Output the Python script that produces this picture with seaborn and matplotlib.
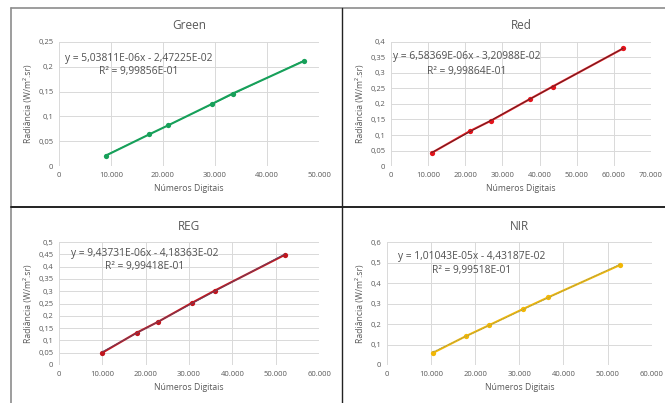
"""Curvas de calibração radiométrica por banda (Green, Red, REG, NIR)."""
import matplotlib
matplotlib.use("Agg")
import matplotlib.pyplot as plt
import matplotlib.lines as mlines
import pandas as pd
import seaborn as sns

# pontos: número digital x radiância
green_dn = [9000, 17400, 21000, 29400, 33400, 47200]
green_rad = [0.021, 0.064, 0.082, 0.125, 0.146, 0.212]

red_dn = [10900, 21300, 26900, 37400, 43500, 62500]
red_rad = [0.042, 0.113, 0.146, 0.216, 0.256, 0.379]

reg_dn = [10000, 17900, 22900, 30600, 36000, 52100]
reg_rad = [0.050, 0.131, 0.176, 0.252, 0.303, 0.448]

nir_dn = [10400, 17900, 23200, 30900, 36600, 52800]
nir_rad = [0.059, 0.141, 0.195, 0.274, 0.331, 0.488]

green_eq = ["y = 5,03811E-06x - 2,47225E-02", "R² = 9,99856E-01"]
red_eq = ["y = 6,58369E-06x - 3,20988E-02", "R² = 9,99864E-01"]
reg_eq = ["y = 9,43731E-06x - 4,18363E-02", "R² = 9,99418E-01"]
nir_eq = ["y = 1,01043E-05x - 4,43187E-02", "R² = 9,99518E-01"]

x_ticks_50 = [0, 10000, 20000, 30000, 40000, 50000]
x_ticks_60 = [0, 10000, 20000, 30000, 40000, 50000, 60000]
x_ticks_70 = [0, 10000, 20000, 30000, 40000, 50000, 60000, 70000]

green_yticks = [0, 0.05, 0.1, 0.15, 0.2, 0.25]
red_yticks = [0, 0.05, 0.1, 0.15, 0.2, 0.25, 0.3, 0.35, 0.4]
reg_yticks = [0, 0.05, 0.1, 0.15, 0.2, 0.25, 0.3, 0.35, 0.4, 0.45, 0.5]
nir_yticks = [0, 0.1, 0.2, 0.3, 0.4, 0.5, 0.6]


def fmt_x(v):
    return f"{v:,.0f}".replace(",", ".")


def fmt_y(v):
    return f"{v:g}".replace(".", ",")


sns.set_theme(style="white")
plt.rcParams["font.family"] = ["Open Sans", "DejaVu Sans"]

TXT = "#595959"
GRID = "#d9d9d9"

fig = plt.figure(figsize=(6.65, 4.03), dpi=100)

panels = [
    # title, x, y, eq, xticks, yticks, color, trend color, trend style, rect, eq pos
    ("Green", green_dn, green_rad, green_eq, x_ticks_50, green_yticks,
     "#17a05a", "#17a05a", "-", [0.0887, 0.588, 0.391, 0.308], (0.308, 0.863, 0.758)),
    ("Red", red_dn, red_rad, red_eq, x_ticks_70, red_yticks,
     "#e3141c", "#3a2a2a", "-", [0.588, 0.588, 0.391, 0.308], (0.292, 0.879, 0.758)),
    ("REG", reg_dn, reg_rad, reg_eq, x_ticks_60, reg_yticks,
     "#c0161e", "#5a4a6a", "-", [0.0887, 0.0943, 0.391, 0.305], (0.329, 0.911, 0.805)),
    ("NIR", nir_dn, nir_rad, nir_eq, x_ticks_60, nir_yticks,
     "#f2b705", "#4a7fb0", ":", [0.582, 0.0943, 0.398, 0.305], (0.321, 0.886, 0.772)),
]

for title, xs, ys, eq, xt, yt, col, tcol, tls, rect, epos in panels:
    ax = fig.add_axes(rect)
    df = pd.DataFrame({"dn": xs, "rad": ys})
    sns.lineplot(data=df, x="dn", y="rad", ax=ax, color=col, linewidth=1.5,
                 marker="o", markersize=3.8, markeredgewidth=0, zorder=3)
    sns.regplot(data=df, x="dn", y="rad", ax=ax, scatter=False, ci=None,
                truncate=True, line_kws={"color": tcol, "lw": 0.5, "ls": tls, "zorder": 4})
    ax.set_xlim(xt[0], xt[-1])
    ax.set_ylim(yt[0], yt[-1])
    ax.set_xticks(xt)
    ax.set_xticklabels([fmt_x(v) for v in xt])
    ax.set_yticks(yt)
    ax.set_yticklabels([fmt_y(v) for v in yt])
    ax.tick_params(axis="both", labelsize=5.5, colors=TXT, length=0, pad=4)
    ax.grid(True, color=GRID, linewidth=0.7)
    ax.set_axisbelow(True)
    for s in ax.spines.values():
        s.set_visible(False)
    ax.set_title(title, fontsize=8.5, color=TXT, pad=9)
    ax.set_xlabel("Números Digitais", fontsize=6.2, color=TXT, labelpad=4)
    ax.set_ylabel("Radiância (W/m².sr)", fontsize=6.2, color=TXT, labelpad=4)
    ax.text(epos[0], epos[1], eq[0], transform=ax.transAxes, ha="center",
            va="center", fontsize=7.4, color="#505050")
    ax.text(epos[0], epos[2], eq[1], transform=ax.transAxes, ha="center",
            va="center", fontsize=7.4, color="#505050")

# moldura e divisões entre os quatro gráficos
fig.add_artist(mlines.Line2D([11 / 665, 1], [1 - 8 / 403, 1 - 8 / 403],
                             color="#8c8c8c", lw=1.2, transform=fig.transFigure))
fig.add_artist(mlines.Line2D([11 / 665, 11 / 665], [0, 1 - 8 / 403],
                             color="#8c8c8c", lw=1.2, transform=fig.transFigure))
fig.add_artist(mlines.Line2D([342 / 665, 342 / 665], [0, 1 - 8 / 403],
                             color="#222222", lw=1.0, transform=fig.transFigure))
fig.add_artist(mlines.Line2D([11 / 665, 1], [1 - 207 / 403, 1 - 207 / 403],
                             color="#222222", lw=1.4, transform=fig.transFigure))

fig.savefig("out.png", dpi=100, facecolor="white")
